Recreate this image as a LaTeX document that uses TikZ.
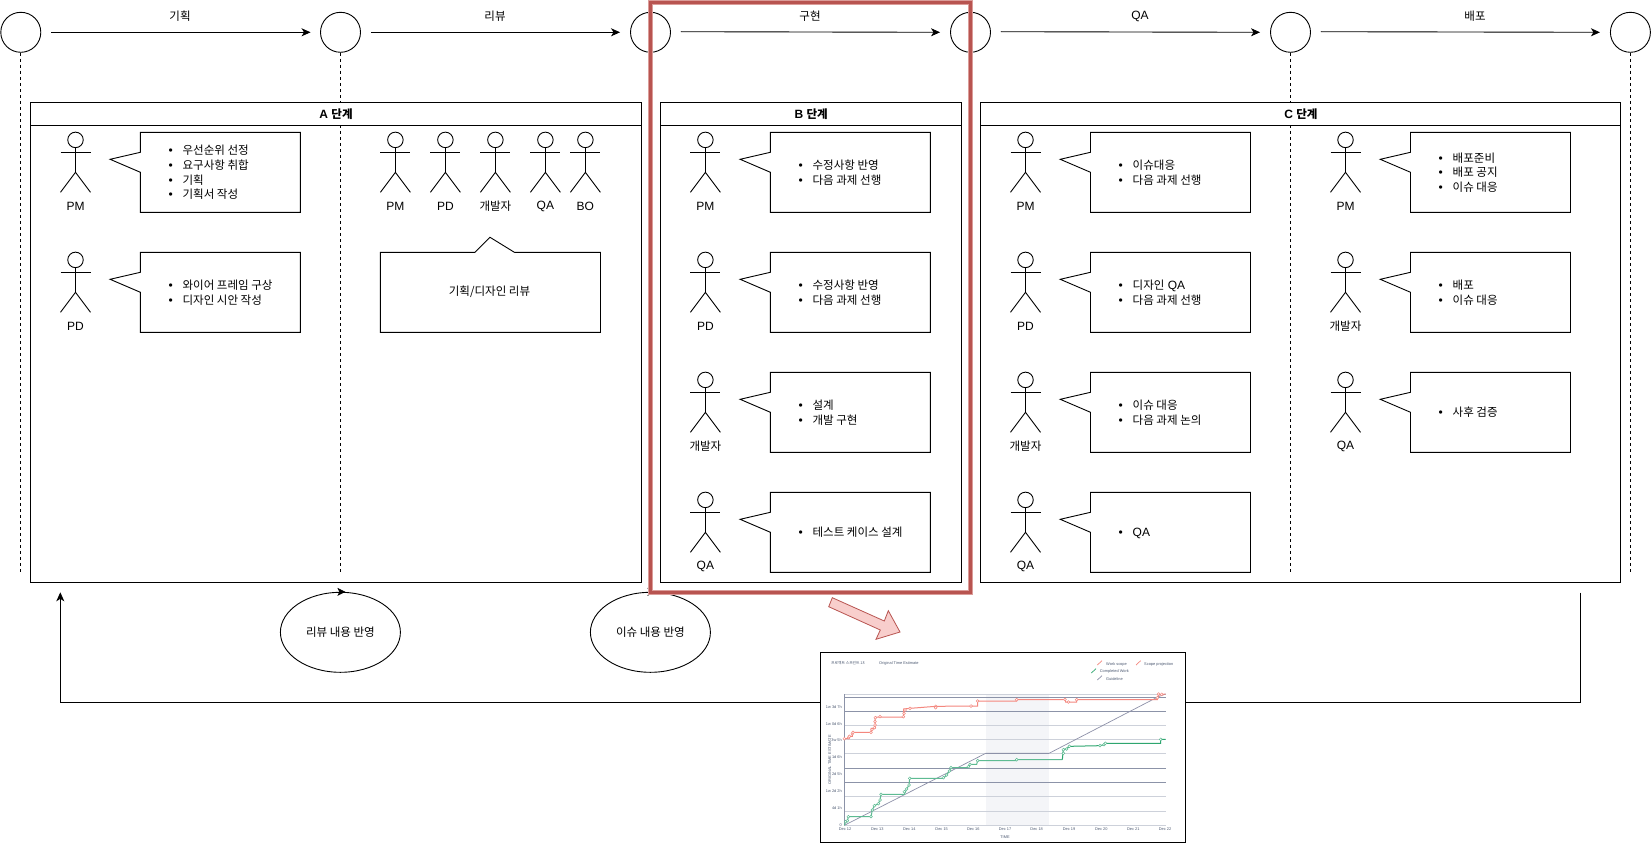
\documentclass[tikz,border=0pt]{standalone}
\usepackage{fontspec}
\setmainfont{Liberation Sans}
\newfontfamily\krf[Scale=0.96]{Noto Sans CJK KR}
\newcommand\KR[1]{{\krf #1}}
\usetikzlibrary{arrows.meta,shapes.geometric}
\definecolor{redline}{HTML}{B85450}
\definecolor{rededge}{HTML}{DB9C99}
\definecolor{redfill}{HTML}{F8CECC}
\definecolor{griddark}{HTML}{8C93A8}
\definecolor{gridlight}{HTML}{CDD1DA}
\definecolor{chartred}{HTML}{F4877E}
\definecolor{chartgreen}{HTML}{5DBB92}
\definecolor{chartgreend}{HTML}{2EA66F}
\definecolor{chartbase}{HTML}{8D90A8}
\definecolor{charttext}{HTML}{4E5B73}
\definecolor{band}{HTML}{F4F5F8}
\tikzset{
  ln/.style={draw=black,line width=.9pt},
  txt/.style={font=\fontsize{12}{14.7}\selectfont,inner sep=0pt},
  flowarrow/.style={ln,-{Stealth[length=9pt,width=8pt,inset=2.5pt]}},
  dashline/.style={draw=black,line width=.7pt,dash pattern=on 3pt off 3pt},
  stage/.style={ln,circle,minimum size=40pt,inner sep=0pt},
  headnode/.style={ln,circle,minimum size=15.5pt,inner sep=0pt},
  panelbody/.style={ln,anchor=north west,inner sep=0pt},
  panelhead/.style={ln,fill=white,anchor=north west,inner sep=0pt,font=\fontsize{12}{14}\selectfont\bfseries},
  listtext/.style={txt,anchor=west,align=left},
  cyc/.style={ln,ellipse,minimum width=120pt,minimum height=80pt,inner sep=0pt,font=\fontsize{12}{14}\selectfont},
  tiny/.style={font=\fontsize{3.9}{4.5}\selectfont,text=charttext,inner sep=0pt},
  grida/.style={draw=griddark,line width=.8pt},
  gridb/.style={draw=gridlight,line width=.8pt},
  mr/.style={draw=chartred,fill=white,line width=.5pt},
  mg/.style={draw=chartgreen,fill=white,line width=.5pt}
}
\newcommand\bi[1]{\makebox[14pt][l]{\textbullet}#1\\}
\newcommand\actorfig[4]{%
  \begin{scope}[shift={(#2,#3)}]
    \node[headnode] (#1h) at (0,7.6) {};
    \draw[ln] (#1h.south) -- (0,40);
    \draw[ln] (-15,20) -- (15,20);
    \draw[ln] (-15,60) -- (0,40) -- (15,60);
    \node[txt] (#1l) at (0,73.7) {#4};
  \end{scope}}
\newcommand\calloutbox[5]{%
  \begin{scope}[shift={(#2,#3)}]
    \draw[ln,fill=white] (0,0) -- (#4,0) -- (#4,80) -- (0,80) -- (0,40) -- (-30.3,27) -- (0,20) -- cycle;
    \node[listtext] (#1) at (28,47.2) {#5};
  \end{scope}}
\begin{document}
\begin{tikzpicture}[x=1pt,y=-1pt]
\useasboundingbox (0,0) rectangle (1651,843);
\fill[white] (0,0) rectangle (1651,843);

% stage circles
\node[stage] (c1) at (20.8,32.3) {};
\node[stage] (c2) at (340.5,32.3) {};
\node[stage] (c3) at (650.5,32.3) {};
\node[stage] (c4) at (970.5,32.3) {};
\node[stage] (c5) at (1290.5,32.3) {};
\node[stage] (c6) at (1630.4,32.3) {};

% life lines
\coordinate (e1) at (20.8,572.5);
\coordinate (e2) at (340.5,572.5);
\coordinate (e3) at (650.5,572.5);
\coordinate (e4) at (970.5,572.5);
\coordinate (e5) at (1290.5,572.5);
\coordinate (e6) at (1630.4,572.5);
\foreach \i in {1,...,6} {\draw[dashline] (c\i.south) -- (e\i);}

% stage arrows
\draw[flowarrow] ([xshift=10pt]c1.east) -- ([xshift=-9.5pt]c2.west);
\draw[flowarrow] ([xshift=10pt]c2.east) -- ([xshift=-10pt]c3.west);
\draw[flowarrow] ([xshift=10pt,yshift=.6pt]c3.east) -- ([xshift=-10pt]c4.west);
\draw[flowarrow] ([xshift=10pt,yshift=.6pt]c4.east) -- ([xshift=-10pt]c5.west);
\draw[flowarrow] ([xshift=10pt,yshift=.6pt]c5.east) -- ([xshift=-10pt]c6.west);
\node[txt] (t1) at (180,16.5) {\KR{기획}};
\node[txt] (t2) at (495,16.5) {\KR{리뷰}};
\node[txt] (t3) at (810,16.5) {\KR{구현}};
\node[txt] (t4) at (1140,16.5) {QA};
\node[txt] (t5) at (1475,16.5) {\KR{배포}};

% panels
\node[panelbody,minimum width=610.3pt,minimum height=480pt] (pa) at (30.4,102.4) {};
\node[panelhead,minimum width=610.3pt,minimum height=23pt] (ha) at (30.4,102.4) {A \KR{단계}};
\node[panelbody,minimum width=300.6pt,minimum height=480pt] (pb) at (660.4,102.4) {};
\node[panelhead,minimum width=300.6pt,minimum height=23pt] (hb) at (660.4,102.4) {B \KR{단계}};
\node[panelbody,minimum width=640pt,minimum height=480pt] (pc) at (980.4,102.4) {};
\node[panelhead,minimum width=640pt,minimum height=23pt] (hc) at (980.4,102.4) {C \KR{단계}};

% panel A
\actorfig{a1}{75.5}{132.3}{PM}
\calloutbox{la1}{140.4}{132.3}{160}{\bi{\KR{우선순위 선정}}\bi{\KR{요구사항 취합}}\bi{\KR{기획}}\bi{\KR{기획서 작성}}}
\actorfig{a2}{75.5}{252.3}{PD}
\calloutbox{la2}{140.4}{252.3}{160}{\bi{\KR{와이어 프레임 구상}}\bi{\KR{디자인 시안 작성}}}
\actorfig{r1}{395.4}{132.3}{PM}
\actorfig{r2}{445.4}{132.3}{PD}
\actorfig{r3}{495.4}{132.3}{\KR{개발자}}
\actorfig{r4}{545.4}{132.3}{QA}
\actorfig{r5}{585.4}{132.3}{BO}
\draw[ln,fill=white] (380.4,252.3) -- (475,252.3) -- (490,237.3) -- (514.4,252.3) -- (600.5,252.3) -- (600.5,332.3) -- (380.4,332.3) -- cycle;
\node[txt] (rv) at (489.5,291.5) {\KR{기획/디자인 리뷰}};

% panel B
\actorfig{b1}{705.4}{132.3}{PM}
\calloutbox{lb1}{770.4}{132.3}{160}{\bi{\KR{수정사항 반영}}\bi{\KR{다음 과제 선행}}}
\actorfig{b2}{705.4}{252.3}{PD}
\calloutbox{lb2}{770.4}{252.3}{160}{\bi{\KR{수정사항 반영}}\bi{\KR{다음 과제 선행}}}
\actorfig{b3}{705.4}{372.3}{\KR{개발자}}
\calloutbox{lb3}{770.4}{372.3}{160}{\bi{\KR{설계}}\bi{\KR{개발 구현}}}
\actorfig{b4}{705.4}{492.3}{QA}
\calloutbox{lb4}{770.4}{492.3}{160}{\bi{\KR{테스트 케이스 설계}}}

% panel C
\actorfig{d1}{1025.5}{132.3}{PM}
\calloutbox{ld1}{1090.5}{132.3}{160}{\bi{\KR{이슈대응}}\bi{\KR{다음 과제 선행}}}
\actorfig{d2}{1025.5}{252.3}{PD}
\calloutbox{ld2}{1090.5}{252.3}{160}{\bi{\KR{디자인} QA}\bi{\KR{다음 과제 선행}}}
\actorfig{d3}{1025.5}{372.3}{\KR{개발자}}
\calloutbox{ld3}{1090.5}{372.3}{160}{\bi{\KR{이슈 대응}}\bi{\KR{다음 과제 논의}}}
\actorfig{d4}{1025.5}{492.3}{QA}
\calloutbox{ld4}{1090.5}{492.3}{160}{\bi{QA}}
\actorfig{f1}{1345.5}{132.3}{PM}
\calloutbox{lf1}{1410.5}{132.3}{160}{\bi{\KR{배포준비}}\bi{\KR{배포 공지}}\bi{\KR{이슈 대응}}}
\actorfig{f2}{1345.5}{252.3}{\KR{개발자}}
\calloutbox{lf2}{1410.5}{252.3}{160}{\bi{\KR{배포}}\bi{\KR{이슈 대응}}}
\actorfig{f3}{1345.5}{372.3}{QA}
\calloutbox{lf3}{1410.5}{372.3}{160}{\bi{\KR{사후 검증}}}

% rework cycles
\node[cyc] (cy1) at (340.4,632.3) {\KR{리뷰 내용 반영}};
\node[cyc] (cy2) at (650.4,632.3) {\KR{이슈 내용 반영}};
\draw[-{Stealth[length=8pt,width=8pt,inset=2pt]},line width=.6pt] ([xshift=-3pt]cy1.north) -- ([xshift=5pt]cy1.north);
\draw[-{Stealth[length=8pt,width=8pt,inset=2pt]},line width=.6pt] ([xshift=-3pt]cy2.north) -- ([xshift=5pt]cy2.north);

% feedback loop
\coordinate (fbs) at (1580.5,592.5);
\coordinate (fbm) at (1580.5,702.3);
\coordinate (fbn) at (60.3,702.3);
\coordinate (fbe) at (60.3,592.3);
\draw[flowarrow] (fbs) -- (fbm) -- (fbn) -- (fbe);

% highlight frame
\draw[draw=rededge,line width=4.8pt] (650.5,2.5) rectangle (970.5,592.5);
\draw[draw=redline,line width=3pt] (650.5,2.5) rectangle (970.5,592.5);

% pointer
\draw[draw=redline,fill=redfill,line width=.8pt] (832.3,597.7) -- (884.3,621) -- (888.3,610.7) -- (900,632) -- (876,639.3) -- (880.3,630) -- (828.7,606.7) -- cycle;

% chart
\draw[ln,fill=white] (820.5,652.5) rectangle (1185.5,842.5);
\begin{scope}[shift={(815,645)},x=.33333pt,y=-.33333pt]
  \fill[band] (512,147) rectangle (702,541);
  \foreach \v in {147,241,283,325,455,499,541} {\draw[gridb] (88,\v) -- (1052,\v);}
  \foreach \v in {157,199,370,412} {\draw[grida] (88,\v) -- (1052,\v);}
  \draw[draw=griddark,line width=.8pt] (88,147) -- (88,541);
  \draw[draw=griddark,line width=.8pt] (512,325) -- (702,325);
  \draw[draw=chartbase,line width=.7pt] (88,541) -- (512,325) -- (702,325) -- (1030,155) -- (1052,147);
  % scope curve
  \draw[draw=chartred,line width=1pt] (88,281) -- (102,281) -- (102,274) -- (112,274) -- (112,262) -- (168,262) -- (168,250) -- (180,250) -- (180,216) -- (266,216) -- (266,192) -- (285,190) -- (362,184) -- (468,183) -- (488,183) -- (488,168) -- (605,168) -- (605,164) -- (750,164) -- (752,171) -- (785,171) -- (785,164) -- (1027,164) -- (1030,150) -- (1052,147);
  \foreach \p in {(88,281),(101,278),(103,274),(112,266),(114,262),(168,262),(171,254),(178,248),(180,240),(180,230),(181,218),(195,215),(265,215),(267,205),(270,195),(285,190),(362,184),(362,188),(468,183),(488,168),(605,164),(750,163),(760,171),(785,164),(1031,147),(1027,158),(1040,148)} {\draw[mr] \p circle (1.4pt);}
  % completed work curve
  \draw[draw=chartgreen,line width=1pt] (88,541) -- (92,530) -- (97,530) -- (100,515) -- (168,515) -- (172,495) -- (178,482) -- (190,476) -- (195,465) -- (198,448) -- (268,448) -- (275,432) -- (282,420) -- (284,400) -- (385,400) -- (395,390) -- (403,378) -- (408,368) -- (460,368) -- (465,358) -- (485,358) -- (488,347) -- (605,347) -- (605,344) -- (742,344);
  \draw[draw=chartgreend,line width=1pt] (742,344) -- (745,312) -- (755,312) -- (763,304) -- (855,302) -- (867,299) -- (871,295) -- (1037,295) -- (1037,283) -- (1052,283);
  \foreach \p in {(92,530),(97,527),(100,515),(168,515),(172,495),(178,482),(190,476),(195,465),(198,448),(268,440),(275,432),(282,420),(284,400),(385,398),(395,390),(403,378),(408,368),(460,365),(465,358),(488,347),(605,344),(745,325),(745,314),(755,312),(763,304),(855,302),(867,299),(871,295),(1037,283)} {\draw[mg] \p circle (1.4pt);}
  % titles
  \node[tiny,anchor=west] (ct1) at (48,54) {\KR{프로젝트 스프린트 18}};
  \node[tiny,anchor=west] (ct2) at (192,54) {Original Time Estimate};
  % legend
  \draw[draw=chartred,line width=.7pt] (847,60) -- (861,47);
  \node[tiny,anchor=west] (lg1) at (873,57) {Work scope};
  \draw[draw=chartred,line width=.7pt] (963,60) -- (977,47);
  \node[tiny,anchor=west] (lg2) at (987,57) {Scope projection};
  \draw[draw=chartgreend,line width=.7pt] (829,84) -- (843,71);
  \node[tiny,anchor=west] (lg3) at (854,79) {Completed Work};
  \draw[draw=chartbase,line width=.7pt] (847,105) -- (861,92);
  \node[tiny,anchor=west] (lg4) at (873,101) {Guideline};
  % y ticks
  \node[tiny,anchor=east] (y0) at (81,185) {1w 3d 7h};
  \node[tiny,anchor=east] (y1) at (81,236) {1w 0d 6h};
  \node[tiny,anchor=east] (y2) at (81,286) {3w 5h};
  \node[tiny,anchor=east] (y3) at (81,337) {1d 6h};
  \node[tiny,anchor=east] (y4) at (81,388) {2d 5h};
  \node[tiny,anchor=east] (y5) at (81,438) {1w 2d 2h};
  \node[tiny,anchor=east] (y6) at (81,489) {4d 1h};
  \node[tiny,anchor=east] (y7) at (81,540) {0};
  \node[tiny,rotate=90] (yl) at (44,345) {ORIGINAL TIME ESTIMATE};
  % x ticks
  \node[tiny] (x0) at (90,552) {Dec 12};
  \node[tiny] (x1) at (187,552) {Dec 13};
  \node[tiny] (x2) at (283,552) {Dec 14};
  \node[tiny] (x3) at (380,552) {Dec 15};
  \node[tiny] (x4) at (475,552) {Dec 16};
  \node[tiny] (x5) at (570,552) {Dec 17};
  \node[tiny] (x6) at (665,552) {Dec 18};
  \node[tiny] (x7) at (762,552) {Dec 19};
  \node[tiny] (x8) at (859,552) {Dec 20};
  \node[tiny] (x9) at (955,552) {Dec 21};
  \node[tiny] (x10) at (1050,552) {Dec 22};
  \node[tiny] (xl) at (570,575) {TIME};
\end{scope}
\end{tikzpicture}
\end{document}
